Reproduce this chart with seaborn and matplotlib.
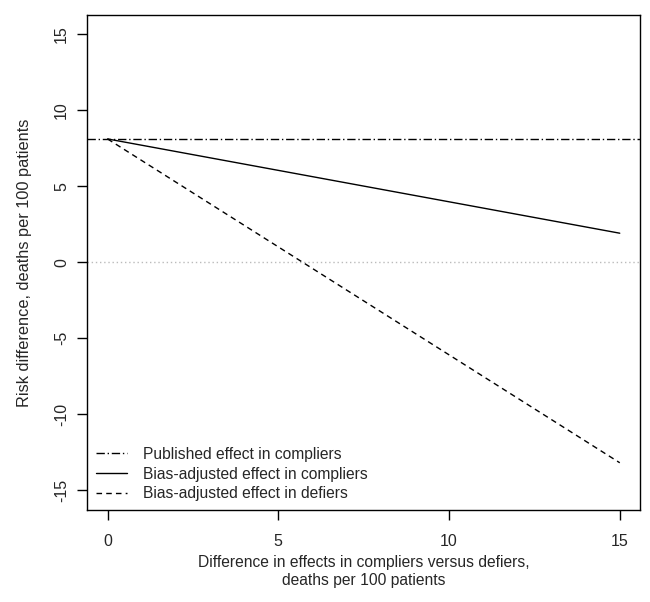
import numpy as np
import pandas as pd
import matplotlib
matplotlib.use("Agg")
import matplotlib.pyplot as plt
import seaborn as sns

# values
diff = [0, 15]
published = [8.1, 8.1]
adj_compliers = [8.1, 1.9]
adj_defiers = [8.1, -13.2]
x_ticks = [0, 5, 10, 15]
y_ticks = [-15, -10, -5, 0, 5, 10, 15]

sns.set_style("white")
plt.rcParams['font.family'] = ['Liberation Sans', 'DejaVu Sans']

fig = plt.figure(figsize=(6.5, 6.02), dpi=100)
ax = fig.add_axes([0.134, 0.153, 0.851, 0.822])

ax.axhline(0, color="#bbbbbb", lw=1, ls=(0, (1, 2)))
sns.lineplot(x=diff, y=published, ax=ax, color="black", lw=1,
             linestyle=(0, (6, 2, 1, 2)), label="Published effect in compliers")
sns.lineplot(x=diff, y=adj_compliers, ax=ax, color="black", lw=1,
             linestyle="-", label="Bias-adjusted effect in compliers")
sns.lineplot(x=diff, y=adj_defiers, ax=ax, color="black", lw=1,
             linestyle=(0, (4, 3)), label="Bias-adjusted effect in defiers")

# published line extends over the whole box like abline
ax.lines[1].set_xdata([-0.6, 15.6])

ax.set_xlim(-0.6, 15.6)
ax.set_ylim(-16.3, 16.25)
ax.set_xticks(x_ticks)
ax.set_yticks(y_ticks)
ax.set_yticklabels([str(v) for v in y_ticks], rotation=90, va="center")
ax.tick_params(direction="out", length=7, width=1, labelsize=11.5, color="black",
               pad=6, left=True, bottom=True)
ax.tick_params(axis="x", pad=10)
for s in ax.spines.values():
    s.set_color("black")
    s.set_linewidth(1)

ax.set_xlabel("Difference in effects in compliers versus defiers,\ndeaths per 100 patients",
              fontsize=11.25, labelpad=5)
ax.set_ylabel("Risk difference, deaths per 100 patients", fontsize=11.75, labelpad=16)

ax.legend(loc="lower left", frameon=False, fontsize=11.25, handlelength=2.0,
          handletextpad=1.0, labelspacing=0.3, borderaxespad=0.15)

fig.savefig("out.png", dpi=100)
